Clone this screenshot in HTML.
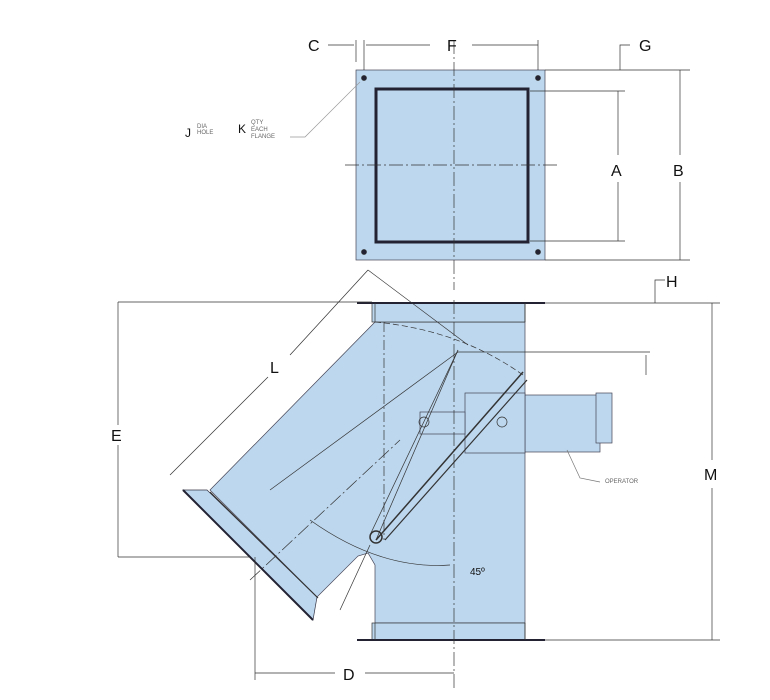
<!DOCTYPE html>
<html><head><meta charset="utf-8"><style>
html,body{margin:0;padding:0;background:#fff;}
svg{display:block;}
text{font-family:"Liberation Sans",sans-serif;fill:#111;}
.s{font-size:6px;fill:#666;}
</style></head><body>
<svg width="770" height="700" viewBox="0 0 770 700" xmlns="http://www.w3.org/2000/svg">
<g stroke="#333" fill="none" stroke-width="0.7">
<!-- top flange -->
<rect x="356" y="70" width="189" height="190" fill="#bdd7ee" stroke="#445"/>
<rect x="376" y="89" width="152" height="153" stroke="#223" stroke-width="3"/>
<line x1="454" y1="40" x2="454" y2="290" stroke-dasharray="14 3 2 3"/>
<line x1="345" y1="165" x2="560" y2="165" stroke-dasharray="14 3 2 3"/>
<g fill="#223"><circle cx="364" cy="78" r="2.5"/><circle cx="538" cy="78" r="2.5"/><circle cx="364" cy="252" r="2.5"/><circle cx="538" cy="252" r="2.5"/></g>
<!-- top dims -->
<line x1="356" y1="40" x2="356" y2="62"/><line x1="364" y1="40" x2="364" y2="70"/><line x1="538" y1="40" x2="538" y2="70"/>
<line x1="328" y1="45" x2="354" y2="45"/><line x1="366" y1="45" x2="430" y2="45"/><line x1="472" y1="45" x2="538" y2="45"/>
<polyline points="630,45 620,45 620,70"/>
<line x1="545" y1="70" x2="690" y2="70"/><line x1="530" y1="91" x2="625" y2="91"/><line x1="530" y1="241" x2="625" y2="241"/><line x1="545" y1="260" x2="690" y2="260"/>
<line x1="618" y1="91" x2="618" y2="155"/><line x1="618" y1="182" x2="618" y2="241"/>
<line x1="680" y1="70" x2="680" y2="155"/><line x1="680" y1="182" x2="680" y2="260"/>
<polyline points="290,137 305,137 360,82" stroke="#999"/>
<!-- body -->
<path d="M375,322 L210,490 L317,597 L358,556 L368,553 L375,565 L375,623 L525,623 L525,322 Z" fill="#bdd7ee" stroke="#445"/>
<rect x="372" y="303" width="153" height="19" fill="#bdd7ee"/>
<rect x="372" y="623" width="153" height="17" fill="#bdd7ee"/>
<path d="M357,303 L545,303 M357,640 L545,640" stroke="#223" stroke-width="2"/>
<line x1="375" y1="303" x2="375" y2="322"/><line x1="525" y1="303" x2="525" y2="322"/>
<line x1="375" y1="623" x2="375" y2="640"/><line x1="525" y1="623" x2="525" y2="640"/>
<!-- branch flange -->
<polygon points="183,490 207,490 317,597 313,620" fill="#bdd7ee" stroke="#334"/>
<line x1="183" y1="490" x2="313" y2="620" stroke-width="2" stroke="#223"/>
<line x1="210" y1="492" x2="318" y2="598" stroke-width="1.2"/>
<!-- actuator -->
<rect x="525" y="395" width="75" height="57" fill="#bdd7ee" stroke="#445"/>
<rect x="596" y="393" width="16" height="50" fill="#bdd7ee" stroke="#445"/>
<rect x="465" y="393" width="60" height="60" fill="#bdd7ee" stroke="#445"/>
<rect x="420" y="412" width="45" height="22" fill="#bdd7ee" stroke="#445"/>
<circle cx="424" cy="422" r="5"/><circle cx="502" cy="422" r="5"/>
<!-- internal lines -->
<path d="M375,322 Q460,330 523,375" stroke-dasharray="6 3"/>
<line x1="376" y1="540" x2="523" y2="372" stroke-width="1.5"/>
<line x1="385" y1="540" x2="527" y2="380" stroke-width="1.2"/>
<line x1="376" y1="540" x2="458" y2="350"/>
<line x1="370" y1="535" x2="458" y2="350"/>
<line x1="270" y1="490" x2="458" y2="352"/>
<line x1="384" y1="322" x2="384" y2="540" stroke-dasharray="10 3 2 3"/>
<line x1="454" y1="300" x2="454" y2="690" stroke-dasharray="14 3 2 3"/>
<line x1="250" y1="580" x2="400" y2="440" stroke-dasharray="14 3 2 3"/>
<path d="M310,520 Q380,570 450,565"/>
<circle cx="376" cy="537" r="6" stroke-width="1.5"/>
<line x1="340" y1="610" x2="370" y2="545"/>
<!-- dims lower -->
<line x1="118" y1="302" x2="372" y2="302"/><line x1="118" y1="557" x2="250" y2="557"/>
<line x1="118" y1="302" x2="118" y2="425"/><line x1="118" y1="445" x2="118" y2="557"/>
<line x1="368" y1="270" x2="468" y2="345"/>
<line x1="170" y1="475" x2="268" y2="377"/><line x1="290" y1="355" x2="368" y2="270"/>
<line x1="255" y1="557" x2="255" y2="680"/><line x1="255" y1="673" x2="335" y2="673"/><line x1="365" y1="673" x2="454" y2="673"/>
<polyline points="665,280 655,280 655,303"/>
<line x1="545" y1="303" x2="720" y2="303"/><line x1="545" y1="640" x2="720" y2="640"/>
<line x1="712" y1="303" x2="712" y2="460"/><line x1="712" y1="488" x2="712" y2="640"/>
<line x1="458" y1="352" x2="650" y2="352"/><line x1="646" y1="355" x2="646" y2="375"/>
<polyline points="567,450 580,478 600,482" stroke="#777"/>
</g>
<g font-size="16">
<text x="308" y="51">C</text><text x="447" y="51">F</text><text x="639" y="51">G</text>
<text x="611" y="176">A</text><text x="673" y="176">B</text>
<text x="666" y="287">H</text><text x="704" y="480">M</text>
<text x="111" y="441">E</text><text x="270" y="373">L</text><text x="343" y="680">D</text>
<text x="185" y="137" font-size="12">J</text><text x="238" y="133" font-size="12">K</text>
</g>
<text class="s" x="197" y="128">DIA</text><text class="s" x="197" y="134">HOLE</text>
<text class="s" x="251" y="124">QTY</text><text class="s" x="251" y="131">EACH</text><text class="s" x="251" y="138">FLANGE</text>
<text class="s" x="605" y="483">OPERATOR</text>
<text x="470" y="575" font-size="10">45º</text>
</svg>
</body></html>
